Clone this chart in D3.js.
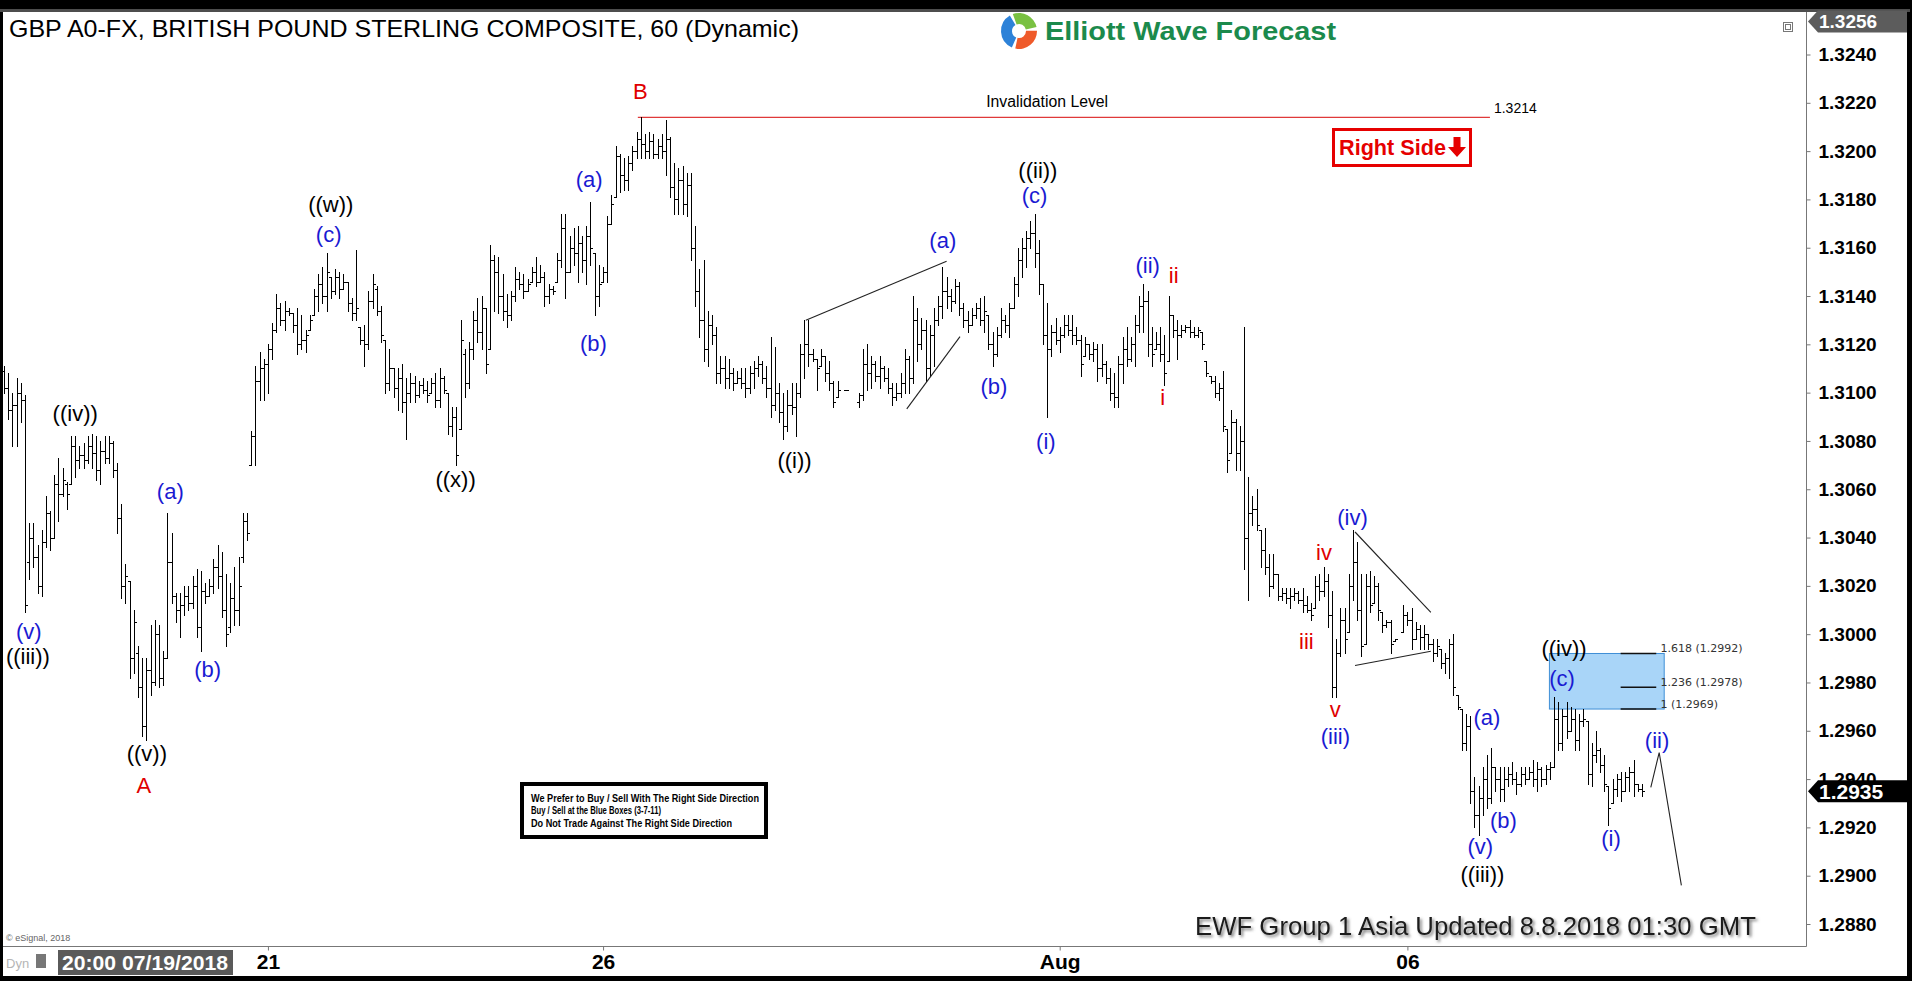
<!DOCTYPE html>
<html><head><meta charset="utf-8">
<script src="https://cdn.jsdelivr.net/npm/d3@7/dist/d3.min.js"></script>
<style>
html,body{margin:0;padding:0;background:#000;overflow:hidden;}
svg{display:block;}
</style></head><body>
<svg id="chart" width="1912" height="981"></svg>
<script>
// ---------------- DATA (hourly OHLC, GBP A0-FX) ----------------
const highs = [
1.3111,1.3108,1.3100,1.3106,1.3104,1.3099,1.3046,1.3046,1.3037,1.3043,
1.3057,1.3051,1.3066,1.3073,1.3069,1.3063,1.3082,1.3082,1.3078,1.3079,
1.3082,1.3083,1.3082,1.3080,1.3082,1.3082,1.3080,1.3071,1.3054,1.3029,
1.3022,1.3010,1.2995,1.2990,1.2990,1.3004,1.3006,1.3004,1.2993,1.3050,
1.3042,1.3017,1.3017,1.3020,1.3020,1.3024,1.3027,1.3026,1.3021,1.3023,
1.3031,1.3037,1.3034,1.3025,1.3021,1.3028,1.3032,1.3050,1.3050,1.3084,
1.3111,1.3117,1.3114,1.3120,1.3129,1.3141,1.3137,1.3138,1.3135,1.3133,
1.3135,1.3132,1.3126,1.3132,1.3143,1.3149,1.3152,1.3158,1.3148,1.3151,
1.3150,1.3149,1.3146,1.3139,1.3159,1.3127,1.3128,1.3142,1.3149,1.3144,
1.3136,1.3122,1.3118,1.3110,1.3110,1.3112,1.3106,1.3108,1.3107,1.3105,
1.3106,1.3105,1.3106,1.3108,1.3110,1.3107,1.3100,1.3094,1.3094,1.3130,
1.3118,1.3121,1.3134,1.3139,1.3140,1.3135,1.3161,1.3157,1.3156,1.3149,
1.3141,1.3142,1.3152,1.3150,1.3149,1.3147,1.3152,1.3156,1.3153,1.3150,
1.3145,1.3144,1.3158,1.3174,1.3174,1.3165,1.3168,1.3169,1.3165,1.3169,
1.3179,1.3158,1.3153,1.3152,1.3173,1.3182,1.3202,1.3199,1.3197,1.3198,
1.3202,1.3208,1.3214,1.3207,1.3208,1.3207,1.3205,1.3207,1.3213,1.3206,
1.3195,1.3193,1.3194,1.3191,1.3191,1.3169,1.3151,1.3155,1.3134,1.3132,
1.3127,1.3115,1.3115,1.3114,1.3110,1.3109,1.3110,1.3110,1.3111,1.3113,
1.3115,1.3113,1.3111,1.3123,1.3119,1.3104,1.3100,1.3101,1.3104,1.3104,
1.3120,1.3130,1.3130,1.3118,1.3114,1.3118,1.3115,1.3113,1.3105,1.3105,
null,1.3101,null,null,1.3100,1.3118,1.3120,1.3115,1.3113,1.3115,
1.3111,1.3110,1.3104,1.3104,1.3108,1.3118,1.3115,1.3140,1.3135,1.3131,
1.3130,1.3128,1.3135,1.3140,1.3152,1.3148,1.3143,1.3147,1.3146,1.3137,
1.3134,1.3135,1.3137,1.3139,1.3140,1.3132,1.3125,1.3127,1.3135,1.3132,
1.3137,1.3148,1.3160,1.3164,1.3167,1.3171,1.3174,1.3163,1.3145,1.3137,
1.3128,1.3131,1.3127,1.3132,1.3132,1.3132,1.3127,1.3124,1.3123,1.3120,
1.3121,1.3120,1.3120,1.3113,1.3110,1.3108,1.3115,1.3123,1.3127,1.3123,
1.3132,1.3140,1.3145,1.3142,1.3127,1.3125,1.3127,1.3124,1.3140,1.3132,
1.3130,1.3128,1.3128,1.3130,1.3127,1.3127,1.3125,1.3113,1.3107,1.3107,
1.3104,1.3109,1.3085,1.3093,1.3089,1.3086,1.3127,1.3065,1.3057,1.3060,
1.3043,1.3044,1.3033,1.3033,1.3025,1.3019,1.3019,1.3019,1.3019,1.3018,
1.3019,1.3016,1.3013,1.3024,1.3025,1.3028,1.3025,1.3018,1.2998,1.3011,
1.3011,1.3025,1.3043,1.3038,1.3025,1.3025,1.3026,1.3024,1.3021,1.3009,
1.3006,1.3006,1.2998,null,1.3012,1.3009,1.3011,1.3005,1.3004,1.3004,
1.3000,1.2998,1.2998,1.2994,1.2992,1.2998,1.3000,1.2975,1.2969,1.2967,
1.2966,1.2941,1.2937,1.2945,1.2950,1.2953,1.2945,1.2945,1.2945,1.2945,
1.2947,1.2943,1.2945,1.2945,1.2945,1.2948,1.2947,1.2945,1.2946,1.2947,
1.2974,1.2972,1.2969,1.2972,1.2970,1.2969,1.2967,1.2969,1.2964,1.2955,
1.2960,1.2953,1.2950,1.2937,1.2940,1.2942,1.2943,1.2943,1.2945,1.2948,
1.2938,1.2938];

const lows = [
1.3100,1.3089,1.3078,1.3078,1.3088,1.3009,1.3023,1.3028,1.3017,1.3016,
1.3036,1.3035,1.3040,1.3047,1.3057,1.3052,1.3062,1.3065,1.3069,1.3069,
1.3071,1.3069,1.3064,1.3062,1.3071,1.3071,1.3065,1.3042,1.3015,1.3013,
1.2982,1.2984,1.2974,1.2958,1.2956,1.2975,1.2979,1.2978,1.2979,1.2990,
1.3013,1.3005,1.2999,1.3008,1.3010,1.3011,1.2999,1.2993,1.3013,1.3016,
1.3017,1.3019,1.3007,1.2995,1.3001,1.3004,1.3004,1.3030,1.3039,1.3070,
1.3070,1.3097,1.3097,1.3100,1.3114,1.3125,1.3128,1.3126,1.3132,1.3125,
1.3116,1.3118,1.3117,1.3126,1.3132,1.3134,1.3137,1.3134,1.3139,1.3141,
1.3139,1.3143,1.3134,1.3130,1.3130,1.3120,1.3111,1.3118,1.3135,1.3132,
1.3121,1.3100,1.3101,1.3098,1.3093,1.3092,1.3081,1.3096,1.3096,1.3098,
1.3100,1.3096,1.3100,1.3094,1.3094,1.3100,1.3083,1.3082,1.3070,1.3085,
1.3098,1.3102,1.3114,1.3121,1.3118,1.3108,1.3118,1.3134,1.3133,1.3130,
1.3127,1.3130,1.3138,1.3143,1.3139,1.3142,1.3146,1.3144,1.3146,1.3136,
1.3137,1.3141,1.3146,1.3152,1.3139,1.3150,1.3153,1.3146,1.3150,1.3145,
1.3153,1.3132,1.3136,1.3146,1.3146,1.3170,1.3181,1.3183,1.3184,1.3184,
1.3192,1.3197,1.3197,1.3197,1.3197,1.3197,1.3197,1.3197,1.3190,1.3181,
1.3174,1.3174,1.3174,1.3173,1.3155,1.3136,1.3123,1.3113,1.3111,1.3120,
1.3104,1.3104,1.3102,1.3102,1.3101,1.3104,1.3102,1.3098,1.3100,1.3102,
1.3107,1.3104,1.3098,1.3090,1.3093,1.3088,1.3081,1.3084,1.3091,1.3082,
1.3098,1.3106,1.3111,1.3113,1.3101,1.3111,1.3105,1.3101,1.3094,1.3098,
null,1.3101,null,null,1.3094,1.3097,1.3101,1.3102,1.3105,1.3102,
1.3105,1.3100,1.3095,1.3097,1.3098,1.3100,1.3100,1.3104,1.3113,1.3118,
1.3105,1.3107,1.3111,1.3128,1.3131,1.3135,1.3134,1.3137,1.3132,1.3127,
1.3125,1.3128,1.3131,1.3128,1.3125,1.3118,1.3111,1.3115,1.3123,1.3125,
1.3123,1.3135,1.3140,1.3148,1.3152,1.3160,1.3152,1.3141,1.3120,1.3090,
1.3115,1.3120,1.3117,1.3123,1.3124,1.3120,1.3120,1.3107,1.3115,1.3114,
1.3113,1.3105,1.3107,1.3104,1.3097,1.3094,1.3094,1.3104,1.3111,1.3113,
1.3111,1.3125,1.3125,1.3115,1.3111,1.3118,1.3113,1.3103,1.3113,1.3123,
1.3114,1.3123,1.3125,1.3123,1.3123,1.3123,1.3118,1.3107,1.3104,1.3098,
1.3097,1.3084,1.3067,1.3075,1.3068,1.3068,1.3027,1.3014,1.3045,1.3043,
1.3028,1.3025,1.3016,1.3019,1.3014,1.3014,1.3013,1.3011,1.3014,1.3013,
1.3009,1.3009,1.3006,1.3011,1.3014,1.3016,1.3003,1.2974,1.2974,1.2991,
1.2992,1.3001,1.3014,1.3006,1.2991,1.2996,1.3009,1.3013,1.3006,1.3001,
1.3003,1.2992,1.2997,null,1.3001,1.3004,1.2994,1.2998,1.2994,1.2994,
1.2994,1.2989,1.2991,1.2986,1.2984,1.2982,1.2975,1.2969,1.2952,1.2952,
1.2930,1.2920,1.2917,1.2925,1.2928,1.2930,1.2935,1.2931,1.2931,1.2937,
1.2938,1.2934,1.2937,1.2938,1.2940,1.2937,1.2935,1.2937,1.2938,1.2940,
1.2945,1.2952,1.2952,1.2957,1.2960,1.2952,1.2952,1.2962,1.2938,1.2937,
1.2947,1.2943,1.2935,1.2921,1.2930,1.2933,1.2931,1.2935,1.2935,1.2933,
1.2935,1.2933];

const opens = [
1.3109,1.3102,1.3093,1.3095,1.3100,1.3097,1.3030,1.3040,1.3032,1.3020,
1.3038,1.3050,1.3040,1.3062,1.3058,1.3062,1.3062,1.3078,1.3072,1.3074,
1.3072,1.3078,1.3075,1.3068,1.3076,1.3073,1.3079,1.3068,1.3048,1.3020,
1.3022,1.2990,1.2992,1.2978,1.2962,1.2985,1.2980,1.3000,1.2982,1.2990,
1.3030,1.3016,1.3010,1.3012,1.3016,1.3013,1.3020,1.3003,1.3018,1.3016,
1.3020,1.3028,1.3024,1.3010,1.3003,1.3015,1.3010,1.3032,1.3047,1.3070,
1.3082,1.3105,1.3110,1.3112,1.3118,1.3126,1.3135,1.3130,1.3134,1.3133,
1.3128,1.3120,1.3122,1.3126,1.3132,1.3140,1.3145,1.3140,1.3148,1.3142,
1.3148,1.3143,1.3146,1.3137,1.3133,1.3127,1.3122,1.3120,1.3138,1.3143,
1.3134,1.3122,1.3104,1.3110,1.3102,1.3106,1.3096,1.3100,1.3104,1.3099,
1.3103,1.3101,1.3100,1.3104,1.3097,1.3106,1.3100,1.3086,1.3090,1.3085,
1.3116,1.3104,1.3118,1.3130,1.3125,1.3135,1.3118,1.3155,1.3150,1.3140,
1.3134,1.3132,1.3140,1.3147,1.3145,1.3142,1.3146,1.3150,1.3146,1.3148,
1.3140,1.3143,1.3146,1.3155,1.3168,1.3150,1.3160,1.3158,1.3162,1.3155,
1.3165,1.3158,1.3140,1.3146,1.3150,1.3170,1.3181,1.3198,1.3190,1.3188,
1.3195,1.3200,1.3205,1.3203,1.3200,1.3204,1.3199,1.3202,1.3200,1.3205,
1.3185,1.3180,1.3188,1.3178,1.3186,1.3160,1.3142,1.3130,1.3118,1.3128,
1.3124,1.3108,1.3110,1.3106,1.3108,1.3104,1.3106,1.3104,1.3102,1.3108,
1.3110,1.3112,1.3106,1.3102,1.3095,1.3100,1.3092,1.3086,1.3095,1.3094,
1.3100,1.3116,1.3120,1.3116,1.3114,1.3111,1.3115,1.3108,1.3104,1.3098,
null,1.3101,null,null,1.3096,1.3099,1.3112,1.3108,1.3112,1.3107,
1.3110,1.3106,1.3102,1.3098,1.3100,1.3104,1.3114,1.3106,1.3130,1.3120,
1.3126,1.3110,1.3124,1.3130,1.3136,1.3142,1.3140,1.3138,1.3144,1.3135,
1.3130,1.3128,1.3132,1.3135,1.3130,1.3132,1.3120,1.3116,1.3124,1.3130,
1.3128,1.3135,1.3145,1.3155,1.3160,1.3164,1.3166,1.3158,1.3145,1.3124,
1.3118,1.3125,1.3122,1.3124,1.3128,1.3126,1.3124,1.3122,1.3115,1.3120,
1.3116,1.3118,1.3110,1.3112,1.3106,1.3100,1.3098,1.3112,1.3118,1.3114,
1.3120,1.3128,1.3136,1.3138,1.3120,1.3118,1.3120,1.3116,1.3113,1.3132,
1.3126,1.3124,1.3126,1.3127,1.3125,1.3124,1.3125,1.3113,1.3107,1.3105,
1.3100,1.3102,1.3085,1.3075,1.3088,1.3075,1.3080,1.3040,1.3050,1.3052,
1.3043,1.3035,1.3028,1.3020,1.3025,1.3016,1.3017,1.3015,1.3016,1.3017,
1.3014,1.3012,1.3010,1.3011,1.3020,1.3018,1.3022,1.3008,1.2978,1.2992,
1.3006,1.3001,1.3020,1.3030,1.3010,1.2996,1.3020,1.3013,1.3020,1.3009,
1.3004,1.3005,1.2997,null,1.3001,1.3008,1.3006,1.2998,1.3002,1.2999,
1.3000,1.2996,1.2992,1.2994,1.2988,1.2990,1.2996,1.2975,1.2969,1.2955,
1.2962,1.2935,1.2925,1.2932,1.2940,1.2932,1.2945,1.2940,1.2936,1.2940,
1.2942,1.2940,1.2938,1.2942,1.2940,1.2943,1.2940,1.2944,1.2940,1.2944,
1.2945,1.2965,1.2955,1.2966,1.2960,1.2965,1.2956,1.2964,1.2964,1.2942,
1.2950,1.2952,1.2946,1.2937,1.2930,1.2936,1.2940,1.2935,1.2941,1.2943,
1.2938,1.2936];

const closes = [
1.3102,1.3093,1.3095,1.3100,1.3097,1.3012,1.3040,1.3032,1.3020,1.3038,
1.3050,1.3040,1.3062,1.3058,1.3064,1.3058,1.3078,1.3072,1.3074,1.3072,
1.3078,1.3075,1.3068,1.3076,1.3073,1.3079,1.3068,1.3048,1.3020,1.3024,
1.2990,1.3005,1.2978,1.2962,1.2985,1.2980,1.3000,1.2982,1.2990,1.3030,
1.3016,1.3010,1.3012,1.3016,1.3013,1.3020,1.3003,1.3018,1.3016,1.3020,
1.3028,1.3024,1.3010,1.3000,1.3015,1.3010,1.3020,1.3047,1.3042,1.3082,
1.3105,1.3110,1.3112,1.3118,1.3126,1.3135,1.3130,1.3134,1.3133,1.3128,
1.3120,1.3122,1.3124,1.3130,1.3140,1.3145,1.3140,1.3150,1.3142,1.3148,
1.3143,1.3146,1.3137,1.3133,1.3135,1.3122,1.3120,1.3138,1.3145,1.3134,
1.3124,1.3104,1.3110,1.3102,1.3106,1.3096,1.3100,1.3104,1.3099,1.3103,
1.3101,1.3099,1.3104,1.3097,1.3106,1.3101,1.3086,1.3090,1.3074,1.3122,
1.3104,1.3118,1.3130,1.3125,1.3135,1.3112,1.3155,1.3150,1.3140,1.3134,
1.3132,1.3140,1.3147,1.3145,1.3142,1.3145,1.3150,1.3146,1.3148,1.3140,
1.3143,1.3142,1.3155,1.3168,1.3150,1.3160,1.3158,1.3162,1.3155,1.3165,
1.3160,1.3140,1.3145,1.3150,1.3170,1.3178,1.3198,1.3190,1.3188,1.3195,
1.3200,1.3205,1.3203,1.3200,1.3204,1.3199,1.3202,1.3200,1.3205,1.3185,
1.3180,1.3188,1.3178,1.3186,1.3160,1.3142,1.3130,1.3118,1.3128,1.3124,
1.3108,1.3110,1.3106,1.3108,1.3104,1.3106,1.3104,1.3102,1.3108,1.3110,
1.3112,1.3106,1.3102,1.3095,1.3100,1.3092,1.3086,1.3095,1.3094,1.3100,
1.3116,1.3120,1.3116,1.3114,1.3110,1.3115,1.3108,1.3104,1.3096,1.3101,
null,1.3101,null,null,1.3099,1.3112,1.3108,1.3112,1.3107,1.3110,
1.3106,1.3102,1.3098,1.3100,1.3104,1.3114,1.3106,1.3130,1.3120,1.3126,
1.3110,1.3124,1.3130,1.3136,1.3142,1.3140,1.3138,1.3144,1.3135,1.3130,
1.3128,1.3132,1.3135,1.3130,1.3134,1.3120,1.3116,1.3124,1.3130,1.3128,
1.3135,1.3145,1.3155,1.3160,1.3164,1.3166,1.3158,1.3145,1.3124,1.3118,
1.3125,1.3122,1.3124,1.3128,1.3126,1.3124,1.3122,1.3112,1.3120,1.3116,
1.3118,1.3110,1.3112,1.3106,1.3100,1.3098,1.3112,1.3118,1.3114,1.3120,
1.3128,1.3136,1.3138,1.3120,1.3116,1.3120,1.3116,1.3108,1.3132,1.3126,
1.3124,1.3126,1.3127,1.3125,1.3124,1.3126,1.3120,1.3108,1.3105,1.3100,
1.3102,1.3086,1.3072,1.3088,1.3075,1.3080,1.3040,1.3050,1.3052,1.3045,
1.3035,1.3028,1.3020,1.3025,1.3016,1.3017,1.3015,1.3016,1.3017,1.3014,
1.3012,1.3010,1.3008,1.3020,1.3018,1.3022,1.3008,1.2978,1.2992,1.3006,
1.2998,1.3020,1.3030,1.3010,1.2995,1.3020,1.3012,1.3020,1.3010,1.3004,
1.3005,1.2996,1.2998,null,1.3008,1.3006,1.2998,1.3002,1.2999,1.3000,
1.2996,1.2992,1.2995,1.2988,1.2990,1.2996,1.2978,1.2970,1.2955,1.2962,
1.2935,1.2925,1.2932,1.2940,1.2932,1.2945,1.2940,1.2936,1.2940,1.2942,
1.2940,1.2938,1.2942,1.2940,1.2943,1.2940,1.2944,1.2940,1.2944,1.2945,
1.2965,1.2955,1.2966,1.2960,1.2965,1.2956,1.2964,1.2965,1.2942,1.2950,
1.2952,1.2946,1.2938,1.2928,1.2936,1.2940,1.2935,1.2941,1.2943,1.2938,
1.2936,1.2935];

const priceTicks = [1.3240,1.3220,1.3200,1.3180,1.3160,1.3140,1.3120,1.3100,1.3080,1.3060,
                    1.3040,1.3020,1.3000,1.2980,1.2960,1.2940,1.2920,1.2900,1.2880];
const timeTickBars = [63, 143, 252, 335];
const timeTickLabels = ["21", "26", "Aug", "06"];
const lastPrice = 1.2935;
const scaleTopPrice = 1.3256;

// Elliott wave labels: [text, bar index, price, colour key]
const waveLabels = [
  ["((iii))", 5.7, 1.29907, "k"], ["(v)", 5.9, 1.30010, "b"], ["((iv))", 17.0, 1.30914, "k"],
  ["(a)", 39.7, 1.30591, "b"], ["(b)", 48.6, 1.29853, "b"], ["((v))", 34.1, 1.29505, "k"],
  ["A", 33.4, 1.29372, "r"], ["((w))", 78.0, 1.31780, "k"], ["(c)", 77.5, 1.31656, "b"],
  ["((x))", 107.8, 1.30640, "k"], ["(a)", 139.7, 1.31884, "b"], ["(b)", 140.7, 1.31204, "b"],
  ["B", 151.9, 1.32245, "r"], ["((i))", 188.7, 1.30719, "k"], ["(a)", 224.1, 1.31631, "b"],
  ["(b)", 236.3, 1.31026, "b"], ["((ii))", 246.8, 1.31921, "k"], ["(c)", 246.0, 1.31818, "b"],
  ["(i)", 248.7, 1.30798, "b"], ["(ii)", 273.0, 1.31527, "b"], ["ii", 279.2, 1.31486, "r"],
  ["i", 276.6, 1.30980, "r"], ["iv", 315.1, 1.30338, "r"], ["iii", 310.9, 1.29969, "r"],
  ["(iv)", 321.9, 1.30483, "b"], ["v", 317.8, 1.29687, "r"], ["(iii)", 317.8, 1.29577, "b"],
  ["(a)", 354.0, 1.29654, "b"], ["(b)", 357.9, 1.29227, "b"], ["(v)", 352.4, 1.29119, "b"],
  ["((iii))", 352.9, 1.29003, "k"], ["((iv))", 372.4, 1.29940, "k"], ["(c)", 371.9, 1.29816, "b"],
  ["(i)", 383.6, 1.29156, "b"], ["(ii)", 394.6, 1.29559, "b"]
];

// Drawn trend / channel lines: arrays of [bar index, price]
const trendLines = [
  [[191.4, 1.3130], [225.0, 1.31544]],
  [[215.5, 1.30933], [228.2, 1.31232]],
  [[322.5, 1.30423], [340.6, 1.30090]],
  [[322.5, 1.29870], [340.6, 1.29929]],
  [[393.1, 1.29366], [395.1, 1.29510], [400.4, 1.28960]]
];

const invalidationPrice = 1.3214;
const invalidationSpan = [151.3, 354.7];
const fibZone = { from: 368.9, to: 396.3, top: 1.2992, bottom: 1.2969 };
const fibLevels = [1.2992, 1.2978, 1.2969];
const fibNames = ["1.618 (1.2992)", "1.236 (1.2978)", "1 (1.2969)"];
const fibLineSpan = [385.9, 394.4];
const fibLabelAt = 395.4;
const noteLines = ["We Prefer to Buy / Sell With The Right Side Direction",
                   "Buy / Sell at the Blue Boxes (3-7-11)",
                   "Do Not Trade Against The Right Side Direction"];

// ---------------- DRAWING ----------------
const FONT = "'Liberation Sans', Arial, Helvetica, sans-serif";
const COLORS = { k: "#000000", b: "#1a1ad2", r: "#e00000" };
const svg = d3.select("#chart");
const defs = svg.append("defs");
defs.append("clipPath").attr("id", "plotClip").append("rect")
  .attr("x", 3).attr("y", 12).attr("width", 1803).attr("height", 934);
const sh = defs.append("filter").attr("id", "shadow")
  .attr("x", "-5%").attr("y", "-40%").attr("width", "110%").attr("height", "180%");
sh.append("feDropShadow").attr("dx", 2).attr("dy", 2).attr("stdDeviation", 1.4)
  .attr("flood-color", "#666").attr("flood-opacity", 0.85);

const N = highs.length;
const x = d3.scaleLinear().domain([0, N - 1]).range([4, 1642]);
const y = d3.scaleLinear().domain([1.2880, 1.3240]).range([924, 54.5]);

// frame
svg.append("rect").attr("width", 1912).attr("height", 981).attr("fill", "#000");
svg.append("rect").attr("x", 0).attr("y", 9).attr("width", 1910).attr("height", 3).attr("fill", "#4d4d4d");
svg.append("rect").attr("x", 3).attr("y", 12).attr("width", 1904).attr("height", 964).attr("fill", "#fff");

// fib zone (under bars)
const gFib = svg.append("g").attr("clip-path", "url(#plotClip)");
gFib.append("rect")
  .attr("x", x(fibZone.from)).attr("y", y(fibZone.top))
  .attr("width", x(fibZone.to) - x(fibZone.from)).attr("height", y(fibZone.bottom) - y(fibZone.top))
  .attr("fill", "#a9d5f8").attr("stroke", "#3f8fd6").attr("stroke-width", 1);

// invalidation line
const gInv = svg.append("g");
gInv.append("line")
  .attr("x1", x(invalidationSpan[0])).attr("x2", x(invalidationSpan[1]))
  .attr("y1", y(invalidationPrice)).attr("y2", y(invalidationPrice))
  .attr("stroke", "#e03a3a").attr("stroke-width", 1.2);
gInv.append("text").attr("x", x(249)).attr("y", y(invalidationPrice) - 10)
  .attr("text-anchor", "middle").attr("font-family", FONT).attr("font-size", 16)
  .attr("textLength", 122).attr("lengthAdjust", "spacingAndGlyphs").text("Invalidation Level");
gInv.append("text").attr("x", x(invalidationSpan[1]) + 4).attr("y", y(invalidationPrice) - 4)
  .attr("font-family", FONT).attr("font-size", 14).text(d3.format(".4f")(invalidationPrice));

// OHLC bars
const gBars = svg.append("g").attr("clip-path", "url(#plotClip)");
const idx = d3.range(N).filter(i => highs[i] != null);
const rx = i => Math.round(x(i)) + 0.5;
const ry = v => Math.round(y(v)) + 0.5;
gBars.selectAll("path").data(idx).join("path")
  .attr("d", i => {
    const cx = rx(i);
    const yh = Math.round(y(highs[i])), yl = Math.round(y(lows[i])) + 1;
    return `M${cx},${yh}V${yl}M${cx - 2.5},${ry(opens[i])}H${cx}M${cx},${ry(closes[i])}H${cx + 2.5}`;
  })
  .attr("stroke", "#000").attr("stroke-width", 1).attr("fill", "none");

// fib lines & labels
fibLevels.forEach((lv, k) => {
  svg.append("line").attr("x1", x(fibLineSpan[0])).attr("x2", x(fibLineSpan[1]))
    .attr("y1", y(lv)).attr("y2", y(lv)).attr("stroke", "#111").attr("stroke-width", 1.5);
  svg.append("text").attr("x", x(fibLabelAt)).attr("y", y(lv) - 1.5)
    .attr("font-family", "'DejaVu Sans', Verdana, sans-serif").attr("font-size", 11)
    .attr("fill", "#333").text(fibNames[k]);
});

// trend lines
const line = d3.line().x(d => x(d[0])).y(d => y(d[1]));
svg.append("g").selectAll("path").data(trendLines).join("path")
  .attr("d", line).attr("fill", "none").attr("stroke", "#222").attr("stroke-width", 1.1);

// wave labels
svg.append("g").selectAll("text").data(waveLabels).join("text")
  .attr("x", d => x(d[1])).attr("y", d => y(d[2]))
  .attr("text-anchor", "middle").attr("dominant-baseline", "central")
  .attr("font-family", FONT).attr("font-size", 22)
  .attr("fill", d => COLORS[d[3]]).text(d => d[0]);

// plot frame lines
svg.append("line").attr("x1", 1806.5).attr("x2", 1806.5).attr("y1", 12).attr("y2", 946.5)
  .attr("stroke", "#777").attr("stroke-width", 1);
svg.append("line").attr("x1", 3).attr("x2", 1806.5).attr("y1", 946.5).attr("y2", 946.5)
  .attr("stroke", "#777").attr("stroke-width", 1);

// price axis
const yAxis = d3.axisRight(y).tickValues(priceTicks).tickFormat(d3.format(".4f")).tickSize(4).tickPadding(8);
const gy = svg.append("g").attr("transform", "translate(1806.5,0)").call(yAxis);
gy.select(".domain").remove();
gy.selectAll(".tick line").attr("stroke", "#777");
gy.selectAll(".tick text").attr("font-family", FONT).attr("font-size", 19)
  .attr("font-weight", "bold").attr("fill", "#000");

// time axis
const xAxis = d3.axisBottom(x).tickValues(timeTickBars).tickFormat((d, i) => timeTickLabels[i])
  .tickSize(4).tickPadding(4);
const gx = svg.append("g").attr("transform", "translate(0,946.5)").call(xAxis);
gx.select(".domain").remove();
gx.selectAll(".tick line").attr("stroke", "#777");
gx.selectAll(".tick text").attr("font-family", FONT).attr("font-size", 21)
  .attr("font-weight", "bold").attr("fill", "#000");

// price markers
function marker(yc, h, fill, label, fs) {
  const t = yc - h / 2, b = yc + h / 2;
  svg.append("path").attr("d", `M1808,${yc}L1818,${t}H1907V${b}H1818Z`).attr("fill", fill);
  svg.append("text").attr("x", 1819).attr("y", yc).attr("dominant-baseline", "central")
    .attr("font-family", FONT).attr("font-size", fs).attr("font-weight", "bold")
    .attr("fill", "#fff").text(label);
}
marker(Math.max(y(scaleTopPrice), 21.5), 22, "#5c5c5c", d3.format(".4f")(scaleTopPrice), 19);
marker(y(lastPrice), 22, "#000", d3.format(".4f")(lastPrice), 21);
// small window icon
svg.append("rect").attr("x", 1783.5).attr("y", 22.5).attr("width", 9).attr("height", 9)
  .attr("fill", "#fff").attr("stroke", "#777");
svg.append("rect").attr("x", 1785.5).attr("y", 24.5).attr("width", 5).attr("height", 5)
  .attr("fill", "none").attr("stroke", "#777");

// title
svg.append("text").attr("x", 9).attr("y", 37).attr("font-family", FONT).attr("font-size", 24)
  .attr("textLength", 790).attr("lengthAdjust", "spacingAndGlyphs").attr("fill", "#000")
  .text("GBP A0-FX, BRITISH POUND STERLING COMPOSITE, 60 (Dynamic)");

// logo
const logo = svg.append("g").attr("transform", "translate(1019,31)");
const arc = d3.arc().innerRadius(7).outerRadius(18);
[[-0.35, 1.35, "#79c142"], [1.55, 3.35, "#ef5a2a"], [3.55, 5.75, "#2d82d8"]].forEach(a => {
  logo.append("path").attr("d", arc({ startAngle: a[0], endAngle: a[1] })).attr("fill", a[2]);
});
svg.append("text").attr("x", 1045).attr("y", 40).attr("font-family", FONT).attr("font-size", 25)
  .attr("font-weight", "bold").attr("fill", "#1b8a4c").attr("textLength", 291)
  .attr("lengthAdjust", "spacingAndGlyphs").text("Elliott Wave Forecast");

// Right Side box
svg.append("rect").attr("x", 1333.5).attr("y", 129.5).attr("width", 137).attr("height", 36)
  .attr("fill", "#fff").attr("stroke", "#e60000").attr("stroke-width", 3);
svg.append("text").attr("x", 1339).attr("y", 155).attr("font-family", FONT).attr("font-size", 22)
  .attr("font-weight", "bold").attr("fill", "#e60000").attr("textLength", 107)
  .attr("lengthAdjust", "spacingAndGlyphs").text("Right Side");
svg.append("path").attr("d", "M1453.5,137H1460.5V147H1466L1457,157L1448,147H1453.5Z").attr("fill", "#e60000");

// note box
svg.append("rect").attr("x", 522).attr("y", 784).attr("width", 244).attr("height", 53)
  .attr("fill", "#fff").attr("stroke", "#000").attr("stroke-width", 4);
const noteW = [228, 130, 201];
noteLines.forEach((t, k) => {
  svg.append("text").attr("x", 531).attr("y", 802 + k * 12.3).attr("font-family", FONT)
    .attr("font-size", 10.5).attr("font-weight", "bold").attr("fill", "#000")
    .attr("textLength", noteW[k]).attr("lengthAdjust", "spacingAndGlyphs").text(t);
});

// EWF update stamp
svg.append("text").attr("x", 1195).attr("y", 935).attr("font-family", FONT).attr("font-size", 26)
  .attr("fill", "#1a1a1a").attr("filter", "url(#shadow)").attr("textLength", 561)
  .attr("lengthAdjust", "spacingAndGlyphs").text("EWF Group 1 Asia Updated 8.8.2018 01:30 GMT");

// bottom-left items
svg.append("text").attr("x", 6).attr("y", 941).attr("font-family", FONT).attr("font-size", 9)
  .attr("fill", "#666").text("© eSignal, 2018");
svg.append("text").attr("x", 6).attr("y", 968).attr("font-family", FONT).attr("font-size", 13)
  .attr("fill", "#b5b5b5").text("Dyn");
svg.append("rect").attr("x", 36).attr("y", 954).attr("width", 10).attr("height", 14).attr("fill", "#777");
svg.append("rect").attr("x", 58).attr("y", 950).attr("width", 175).attr("height", 25).attr("fill", "#5a5a5a");
svg.append("text").attr("x", 62).attr("y", 970).attr("font-family", FONT).attr("font-size", 21)
  .attr("font-weight", "bold").attr("fill", "#fff").attr("textLength", 166)
  .attr("lengthAdjust", "spacingAndGlyphs").text("20:00 07/19/2018");
</script>
</body></html>
